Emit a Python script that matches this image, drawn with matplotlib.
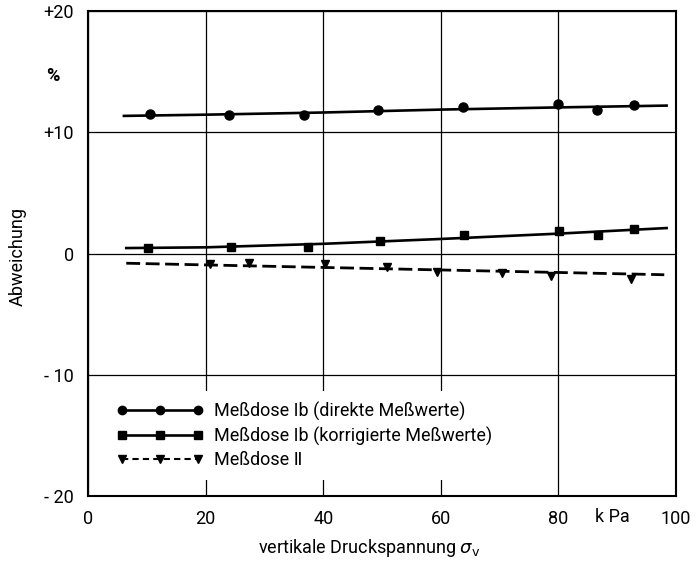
import matplotlib.pyplot as plt
from matplotlib.lines import Line2D

plt.rcParams['font.family'] = ['Roboto', 'DejaVu Sans']

# Messdose Ib, direkte Messwerte (points and drawn fit line)
x_direkt = [10.5, 23.9, 36.8, 49.3, 63.8, 80.0, 86.6, 92.9]
y_direkt = [11.5, 11.45, 11.45, 11.85, 12.1, 12.3, 11.85, 12.25]
x_direkt_fit = [6.1, 20, 40, 60, 80, 98.4]
y_direkt_fit = [11.35, 11.45, 11.63, 11.87, 12.05, 12.2]

# Messdose Ib, korrigierte Messwerte
x_korr = [10.2, 24.3, 37.4, 49.6, 63.9, 80.1, 86.7, 92.9]
y_korr = [0.45, 0.5, 0.55, 1.0, 1.55, 1.85, 1.55, 2.0]
x_korr_fit = [6.5, 20, 40, 60, 80, 98.4]
y_korr_fit = [0.45, 0.51, 0.8, 1.2, 1.64, 2.1]

# Messdose II
x_zwei = [20.8, 27.4, 40.3, 50.9, 59.4, 70.4, 78.8, 92.3]
y_zwei = [-0.85, -0.8, -0.85, -1.15, -1.5, -1.6, -1.85, -2.1]
x_zwei_fit = [6.5, 98.0]
y_zwei_fit = [-0.8, -1.75]

xticks = [0, 20, 40, 60, 80, 100]
yticks = [-20, -10, 0, 10, 20]
ytick_labels = ['- 20', '- 10', '0', '+10', '+20']

fig = plt.figure(figsize=(6.97, 5.62), dpi=100)
ax = fig.add_axes([0.1263, 0.1174, 0.8436, 0.863])

ax.plot(x_direkt_fit, y_direkt_fit, color='black', lw=1.9, zorder=3)
ax.plot(x_direkt, y_direkt, 'o', color='black', ms=6.5, zorder=4)

ax.plot(x_korr_fit, y_korr_fit, color='black', lw=1.9, zorder=3)
ax.plot(x_korr, y_korr, 's', color='black', ms=6, zorder=4)

ax.plot(x_zwei_fit, y_zwei_fit, color='black', lw=2.0, dashes=(5, 2), zorder=3)
ax.plot(x_zwei, y_zwei, 'v', color='black', ms=6, zorder=4)

ax.set_xlim(0, 100)
ax.set_ylim(-20, 20)
ax.set_xticks(xticks)
ax.set_xticklabels([str(t) for t in xticks])
ax.set_yticks(yticks)
ax.set_yticklabels(ytick_labels)
ax.tick_params(length=0, labelsize=13, pad=10)
ax.grid(True, color='black', lw=0.9)
for s in ax.spines.values():
    s.set_linewidth(1.5)

ax.text(89.2, -21.75, 'k Pa', fontsize=13, ha='center', va='center')
ax.text(-0.06, 14.6, '%', transform=ax.get_yaxis_transform(), fontsize=13,
        ha='center', va='center', fontweight='bold')

fig.text(0.026, 0.544, 'Abweichung', rotation=90, fontsize=13,
         ha='center', va='center')
fig.text(0.53, 0.025, r'vertikale Druckspannung $\sigma_{\rm v}$', fontsize=13,
         ha='center', va='center')

handles = [
    Line2D([], [], color='black', lw=1.9, marker='o', ms=6),
    Line2D([], [], color='black', lw=1.9, marker='s', ms=6),
    Line2D([], [], color='black', lw=1.5, dashes=(3, 2), marker='v', ms=6),
]
labels = ['Meßdose Ib (direkte Meßwerte)',
          'Meßdose Ib (korrigierte Meßwerte)',
          'Meßdose Ⅱ']
leg = ax.legend(handles, labels, loc='upper left', bbox_to_anchor=(0.015, 0.235),
                numpoints=3, handlelength=4.8, handletextpad=0.6,
                labelspacing=0.3, fontsize=13, frameon=True, fancybox=False,
                borderpad=0.6)
leg.get_frame().set_edgecolor('none')
leg.get_frame().set_facecolor('white')
leg.get_frame().set_alpha(1)
leg.set_zorder(5)

fig.savefig('out.png', dpi=100)
